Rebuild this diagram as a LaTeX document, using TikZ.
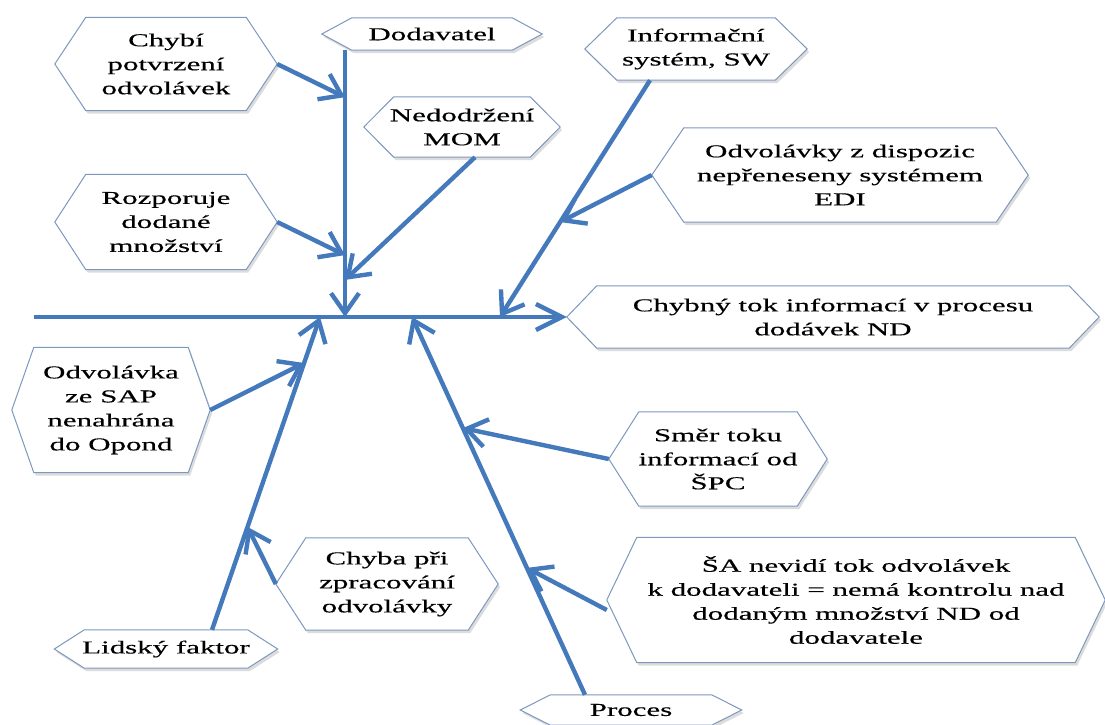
\documentclass[tikz,border=0pt]{standalone}
\usepackage{fontspec}
\setmainfont{Liberation Serif}[FakeStretch=1.7,FakeBold=0.4]
\usetikzlibrary{arrows.meta,calc,shadows,backgrounds}
\definecolor{bonec}{RGB}{68,122,188}
\definecolor{hexc}{RGB}{125,152,190}
\begin{document}
\begin{tikzpicture}[x=1pt,y=-1pt,
  lab/.style={inner sep=0pt, align=center, font=\fontsize{18.2}{24}\selectfont},
  bone/.style={draw=bonec, line width=4.4pt, -{Straight Barb[length=20pt,width=28pt]}},
  spinearrow/.style={draw=bonec, line width=4.4pt, -{Straight Barb[length=26pt,width=26pt]}},
  hexshape/.style={draw=hexc, line width=1pt, fill=white,
    drop shadow={shadow xshift=2pt,shadow yshift=-3pt,fill=black!45,opacity=0.3}}]
\useasboundingbox (0,0) rectangle (1105,724);

% nodes (text)
\node[lab, minimum width=222pt, minimum height=93pt] (chybi) at (166,64) {Chybí\\potvrzení\\odvolávek};
\node[lab, minimum width=220pt, minimum height=32pt] (dod) at (432,34) {Dodavatel};
\node[lab, minimum width=196pt, minimum height=60pt] (ned) at (462,127) {Nedodržení\\MOM};
\node[lab, minimum width=222pt, minimum height=95pt] (rozp) at (166,222) {Rozporuje\\dodané\\množství};
\node[lab, minimum width=222pt, minimum height=62pt] (info) at (696,49) {Informační\\systém, SW};
\node[lab, minimum width=376pt, minimum height=94pt] (odv) at (840,175) {Odvolávky z dispozic\\nepřeneseny systémem\\EDI};
\node[lab, minimum width=532pt, minimum height=62pt] (chybny) at (833,317) {Chybný tok informací v procesu\\dodávek ND};
\node[lab, minimum width=198pt, minimum height=125pt] (sap) at (111,410) {Odvolávka\\ze SAP\\nenahrána\\do Opond};
\node[lab, minimum width=218pt, minimum height=94pt] (smer) at (718,459) {Směr toku\\informací od\\ŠPC};
\node[lab, minimum width=222pt, minimum height=92pt] (chyba) at (387,584) {Chyba při\\zpracování\\odvolávky};
\node[lab, minimum width=498pt, minimum height=125pt] (sa) at (856,600) {ŠA nevidí tok odvolávek\\k dodavateli = nemá kontrolu nad\\dodaným množství ND od\\dodavatele};
\node[lab, minimum width=223pt, minimum height=38pt] (lid) at (166,649) {Lidský faktor};
\node[lab, minimum width=221pt, minimum height=30pt] (proc) at (631,710) {Proces};

% hexagon frames
\begin{scope}[on background layer]
\foreach \n/\i in {chybi/31pt, dod/30pt, ned/30pt, rozp/31pt, info/32pt, odv/32pt,
  chybny/30pt, sap/22pt, smer/30pt, chyba/30pt, sa/30pt, lid/30pt, proc/30pt}
  \draw[hexshape] ([xshift=\i]\n.north west) -- ([xshift=-\i]\n.north east) -- (\n.east)
     -- ([xshift=-\i]\n.south east) -- ([xshift=\i]\n.south west) -- (\n.west) -- cycle;
\end{scope}

% bone coordinates
\coordinate (spineStart) at (34,317);
\coordinate (jD) at (345,317);
\coordinate (jI) at (500,317);
\coordinate (jL) at (320,317);
\coordinate (jP) at (412,317);
\coordinate (d0) at (dod.south -| jD);
\coordinate (i0) at ([xshift=-46pt]info.south);
\coordinate (l0) at ([xshift=46pt]lid.north);
\coordinate (p0) at ([xshift=-46pt]proc.north);

% spine and main bones
\draw[spinearrow] (spineStart) -- (chybny.west);
\draw[bone] (d0) -- (jD);
\draw[bone] (i0) -- (jI);
\draw[bone] (l0) -- (jL);
\draw[bone] (p0) -- (jP);

% cause arrows
\draw[bone] (chybi.east) -- ($(d0)!0.176!(jD)$);
\draw[bone] (rozp.east) -- ($(d0)!0.768!(jD)$);
\draw[bone] ([xshift=13pt]ned.south) -- ($(d0)!0.861!(jD)$);
\draw[bone] (odv.west) -- ($(i0)!0.599!(jI)$);
\draw[bone] (sap.east) -- ($(l0)!0.853!(jL)$);
\draw[bone] (chyba.west) -- ($(l0)!0.329!(jL)$);
\draw[bone] (smer.west) -- ($(p0)!0.706!(jP)$);
\draw[bone] ([yshift=-10pt]sa.west) -- ($(p0)!0.336!(jP)$);
\end{tikzpicture}
\end{document}
